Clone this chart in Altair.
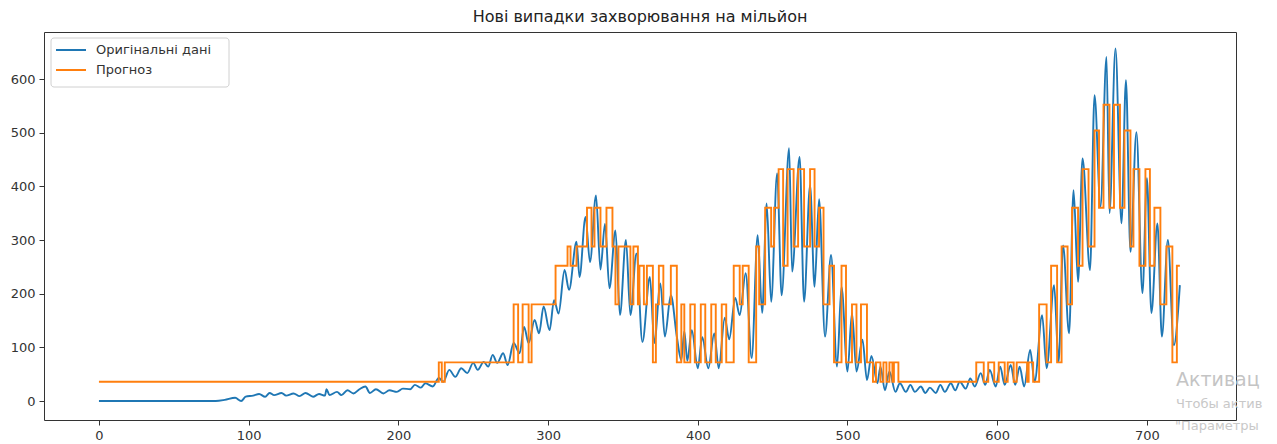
import altair as alt
import pandas as pd

TITLE = "Нові випадки захворювання на мільйон"
SERIES = ["Оригінальні дані", "Прогноз"]
COLORS = ["#1f77b4", "#ff7f0e"]

# Daily new cases per million: turning points of the weekly cycle (day, value)
orig_day = [
    0, 40, 78, 84, 91, 95, 98, 103, 107, 111, 114, 117, 122, 125, 130, 134, 138,
    143, 147, 151, 152, 154, 159, 162, 166, 170, 174, 178, 181, 185, 190, 194,
    199, 203, 208, 211, 215, 218, 223, 227, 230, 234, 238, 242, 246, 250, 253,
    257, 260, 263, 266, 270, 273, 277, 281, 284, 287, 291, 294, 297, 301, 304,
    307, 311, 314, 319, 321, 325, 328, 332, 335, 338, 341, 345, 348, 352, 355,
    359, 363, 368, 371, 375, 378, 382, 386, 389, 391, 393, 396, 400, 403, 407,
    411, 414, 418, 421, 425, 428, 432, 436, 440, 443, 446, 449, 453, 456, 461,
    463, 468, 471, 475, 478, 481, 485, 489, 493, 496, 500, 503, 506, 510, 513,
    516, 520, 522, 525, 528, 532, 535, 539, 542, 545, 549, 552, 555, 559, 562,
    565, 569, 572, 575, 579, 582, 585, 589, 592, 595, 599, 602, 605, 609, 612,
    615, 618, 622, 625, 630, 633, 638, 641, 644, 648, 651, 654, 657, 662, 665,
    669, 673, 675, 679, 683, 686, 689, 693, 697, 700, 703, 707, 710, 714, 718,
    722,
]
orig_val = [
    0, 0, 0, 2, 6, 0, 8, 10, 13, 8, 15, 11, 15, 10, 14, 9, 15,
    8, 13, 10, 22, 11, 17, 11, 20, 14, 22, 27, 15, 22, 14, 20,
    17, 23, 22, 30, 25, 33, 27, 43, 36, 58, 45, 61, 52, 71, 58,
    73, 64, 86, 71, 89, 67, 108, 89, 138, 108, 151, 126, 176, 132, 188,
    163, 244, 207, 297, 231, 343, 259, 383, 245, 330, 210, 318, 160, 300, 160,
    275, 110, 231, 108, 219, 120, 197, 120, 76, 130, 75, 132, 61, 119, 61,
    126, 61, 155, 115, 192, 160, 238, 80, 309, 164, 368, 185, 424, 197, 471,
    241, 455, 185, 402, 213, 376, 120, 272, 64, 213, 55, 164, 55, 114, 39,
    84, 33, 64, 20, 55, 17, 33, 17, 30, 17, 27, 15, 25, 15, 30,
    17, 33, 20, 36, 23, 42, 27, 52, 30, 58, 27, 64, 30, 67, 30,
    64, 27, 95, 36, 160, 61, 216, 73, 290, 126, 393, 222, 452, 244, 570,
    362, 641, 350, 657, 331, 598, 278, 501, 201, 415, 164, 331, 120, 300, 104,
    216,
]

# Forecast: day on which each new level starts
fc_day = [
    0, 227, 229, 231, 277, 280, 283, 287, 289, 305, 313, 315, 319, 326, 329,
    331, 335, 339, 343, 345, 347, 355, 357, 360, 361, 364, 366, 370, 372, 374,
    377, 382, 386, 389, 391, 395, 398, 402, 405, 409, 412, 416, 419, 424, 428,
    430, 434, 439, 441, 445, 449, 451, 454, 457, 460, 464, 467, 471, 475, 478,
    481, 484, 488, 491, 496, 499, 503, 506, 509, 513, 517, 519, 522, 524, 526,
    528, 530, 531, 534, 586, 591, 594, 598, 601, 605, 607, 611, 613, 620, 621,
    624, 628, 633, 636, 640, 643, 647, 650, 654, 657, 661, 665, 668, 671, 675,
    678, 682, 685, 689, 691, 695, 699, 702, 705, 709, 713, 717, 720, 722,
]
fc_val = [
    36, 72, 36, 72, 180, 72, 180, 72, 180, 252, 288, 252, 288, 360, 288,
    360, 288, 360, 288, 180, 288, 180, 288, 180, 252, 180, 252, 72, 180, 252,
    180, 252, 72, 180, 72, 180, 72, 180, 72, 180, 72, 180, 72, 252, 180,
    252, 72, 288, 180, 360, 288, 360, 432, 252, 432, 288, 432, 288, 432, 288,
    360, 180, 252, 72, 252, 72, 180, 72, 180, 72, 36, 72, 36, 72, 36,
    72, 36, 72, 36, 72, 36, 72, 36, 72, 36, 72, 36, 72, 36, 72,
    36, 180, 72, 252, 72, 288, 180, 360, 252, 432, 288, 504, 360, 552, 360,
    552, 360, 504, 288, 432, 252, 432, 252, 360, 180, 288, 72, 252, 252,
]

x_ticks = [0, 100, 200, 300, 400, 500, 600, 700]
y_ticks = [0, 100, 200, 300, 400, 500, 600]

orig = pd.DataFrame({"day": orig_day, "value": orig_val, "series": SERIES[0]})
fc = pd.DataFrame({"day": fc_day, "value": fc_val, "series": SERIES[1]})

W, H = 1192, 388
FONT = "DejaVu Sans"
INK = "#333333"

x_enc = alt.X(
    "day:Q",
    scale=alt.Scale(domain=[-36.7, 759.5], nice=False, zero=False),
    axis=alt.Axis(values=x_ticks, format="d", title=None, grid=False, domain=False,
                  tickSize=5, tickColor=INK, labelColor=INK, labelFont=FONT,
                  labelFontSize=13, labelPadding=4),
)
y_enc = alt.Y(
    "value:Q",
    scale=alt.Scale(domain=[-35.4, 687.6], nice=False, zero=False),
    axis=alt.Axis(values=y_ticks, format="d", title=None, grid=False, domain=False,
                  tickSize=5, tickColor=INK, labelColor=INK, labelFont=FONT,
                  labelFontSize=13, labelPadding=4),
)
color_enc = alt.Color(
    "series:N", scale=alt.Scale(domain=SERIES, range=COLORS), legend=None
)

orig_line = alt.Chart(orig).mark_line(strokeWidth=1.9, interpolate="monotone").encode(
    x=x_enc, y=y_enc, color=color_enc
)
fc_line = alt.Chart(fc).mark_line(strokeWidth=1.9, interpolate="step-after").encode(
    x=x_enc, y=y_enc, color=color_enc
)

# Title, drawn above the frame
title = alt.Chart(pd.DataFrame({"t": [TITLE]})).mark_text(
    align="center", baseline="middle", font=FONT, fontSize=16, color="#222222"
).encode(text="t:N", x=alt.value(W / 2), y=alt.value(-15))

# Legend box in the upper-left corner of the frame
legend_box = alt.Chart(pd.DataFrame({"k": [0]})).mark_rect(
    fill="white", stroke="#d0d0d0", strokeWidth=1, cornerRadius=3
).encode(x=alt.value(7), x2=alt.value(185), y=alt.value(6), y2=alt.value(55))
legend_parts = [legend_box]
for i, (name, col) in enumerate(zip(SERIES, COLORS)):
    ly = 18 + 20 * i
    legend_parts.append(
        alt.Chart(pd.DataFrame({"k": [0]})).mark_rule(color=col, strokeWidth=2).encode(
            x=alt.value(12), x2=alt.value(42), y=alt.value(ly)
        )
    )
    legend_parts.append(
        alt.Chart(pd.DataFrame({"t": [name]})).mark_text(
            align="left", baseline="middle", font=FONT, fontSize=13, color=INK
        ).encode(text="t:N", x=alt.value(52), y=alt.value(ly))
    )

# Faint system watermark in the lower-right corner
wm_big = alt.Chart(pd.DataFrame({"t": ["Активац"]})).mark_text(
    align="left", baseline="middle", font=FONT, fontSize=19, color="#c4c4c4"
).encode(text="t:N", x=alt.value(1132), y=alt.value(348))
wm_l1 = alt.Chart(pd.DataFrame({"t": ["Чтобы актив"]})).mark_text(
    align="left", baseline="middle", font=FONT, fontSize=13, color="#c8c8c8"
).encode(text="t:N", x=alt.value(1132), y=alt.value(372))
wm_l2 = alt.Chart(pd.DataFrame({"t": ["\"Параметры"]})).mark_text(
    align="left", baseline="middle", font=FONT, fontSize=13, color="#c8c8c8"
).encode(text="t:N", x=alt.value(1131), y=alt.value(394))

chart = (
    alt.layer(orig_line, fc_line, title, *legend_parts, wm_big, wm_l1, wm_l2)
    .properties(
        width=W,
        height=H,
        autosize=alt.AutoSizeParams(type="none"),
        padding={"left": 44, "top": 32, "right": 41, "bottom": 24},
        background="white",
    )
    .configure_view(stroke=INK, strokeWidth=1)
)

chart.save("out.html", embed_options={"renderer": "svg", "actions": False})
